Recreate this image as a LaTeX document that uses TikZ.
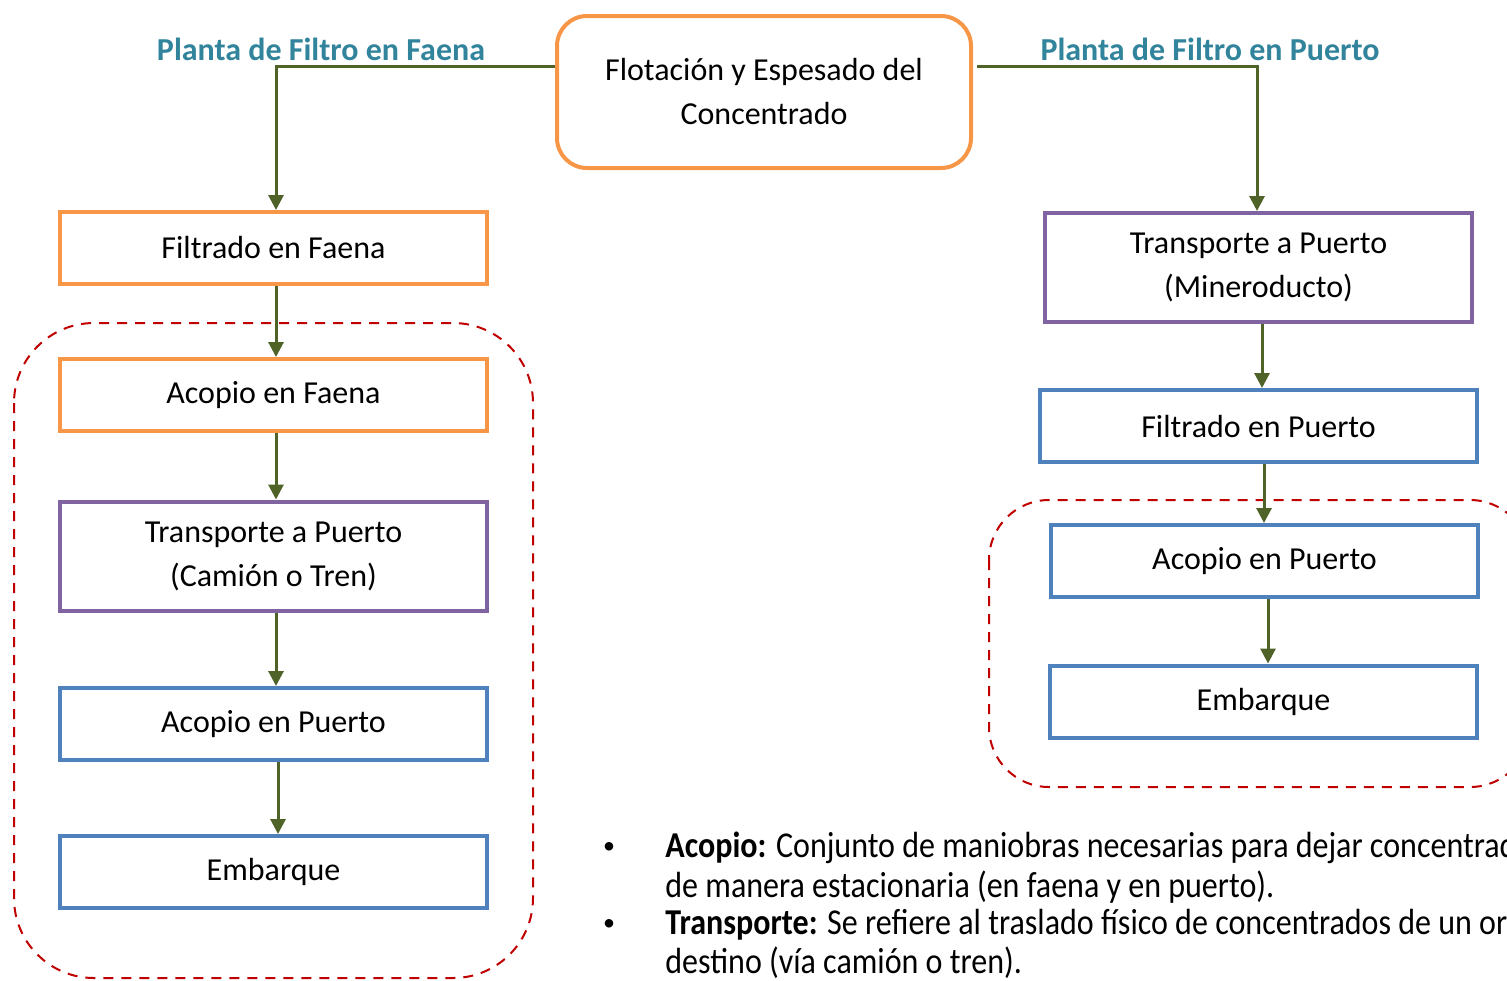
\documentclass[tikz,border=0pt]{standalone}
\usepackage{fontspec}
\setmainfont{Carlito}
\newfontfamily\condfont[FakeStretch=0.88]{Carlito}
\usetikzlibrary{arrows.meta,positioning,calc}
\definecolor{corange}{HTML}{F79646}
\definecolor{cpurple}{HTML}{8064A2}
\definecolor{cblue}{HTML}{4F81BD}
\definecolor{cteal}{HTML}{31849B}
\definecolor{cgreen}{HTML}{4F6228}
\definecolor{cred}{HTML}{C00000}
\tikzset{
  box/.style={draw, line width=2pt, rectangle, align=center, inner sep=0pt,
    font=\fontsize{16}{22}\selectfont},
  obox/.style={box, draw=corange},
  pbox/.style={box, draw=cpurple},
  bbox/.style={box, draw=cblue},
  arr/.style={draw=cgreen, line width=1.5pt, -{Triangle[length=7.5pt,width=7.5pt]}},
  grp/.style={draw=cred, line width=1pt, dash pattern=on 5pt off 4pt},
  ttl/.style={text=cteal, font=\fontsize{16}{18}\selectfont\bfseries, inner sep=0pt},
  note/.style={anchor=west, inner sep=0pt, font=\condfont\fontsize{18.2}{20}\selectfont},
  bul/.style={inner sep=0pt, font=\fontsize{12}{14}\selectfont},
}
\begin{document}
\begin{tikzpicture}[x=0.5pt,y=-0.5pt]
\useasboundingbox (0,0) rectangle (1507,980);
\clip (0,0) rectangle (1507,980);
% dashed groups
\draw[grp, rounded corners=40pt] (14,323) rectangle (533,978);
\draw[grp, rounded corners=30pt] (989,500) rectangle (1530,787);
% top
\node[obox, rounded corners=15pt, minimum width=207pt, minimum height=76pt] (flot) at (764,92) {Flotación y Espesado del\\Concentrado};
\node[ttl] (tf) at (321,49) {Planta de Filtro en Faena};
\node[ttl] (tp) at (1210,49) {Planta de Filtro en Puerto};
% left column
\node[obox, minimum width=213.5pt, minimum height=36pt] (ff) at (273.5,248) {Filtrado en Faena};
\node[obox, minimum width=213.5pt, minimum height=36pt] (af) at (273.5,395) {Acopio en Faena};
\node[pbox, minimum width=213.5pt, minimum height=54.5pt] (tl) at (273.5,556) {Transporte a Puerto\\(Camión o Tren)};
\node[bbox, minimum width=213.5pt, minimum height=36pt] (apl) at (273.5,724) {Acopio en Puerto};
\node[bbox, minimum width=213.5pt, minimum height=36pt] (el) at (273.5,872) {Embarque};
% right column
\node[pbox, minimum width=213.5pt, minimum height=54.5pt] (tr) at (1258.5,267.5) {Transporte a Puerto\\(Mineroducto)};
\node[bbox, minimum width=218.5pt, minimum height=36pt] (fp) at (1258.5,426) {Filtrado en Puerto};
\node[bbox, minimum width=213.5pt, minimum height=36pt] (apr) at (1264.5,561) {Acopio en Puerto};
\node[bbox, minimum width=213.5pt, minimum height=36pt] (er) at (1263.5,701.5) {Embarque};
% connectors
\draw[arr] ([yshift=13pt]flot.west) -| ([xshift=1.25pt]ff.north);
\draw[arr] ([yshift=13pt,xshift=2pt]flot.east) -| ([xshift=-0.75pt]tr.north);
\draw[arr] ([xshift=1.25pt]ff.south) -- ([xshift=1.25pt]af.north);
\draw[arr] ([xshift=1.25pt]af.south) -- ([xshift=1.25pt]tl.north);
\draw[arr] ([xshift=1.25pt]tl.south) -- ([xshift=1.25pt]apl.north);
\draw[arr] ([xshift=2.25pt]apl.south) -- ([xshift=2.25pt]el.north);
\draw[arr] ([xshift=1.75pt]tr.south) -- ([xshift=1.75pt]tr.south |- fp.north);
\draw[arr] ([xshift=2.75pt]fp.south) -- ([xshift=2.75pt]fp.south |- apr.north);
\draw[arr] ([xshift=1.75pt]apr.south) -- ([xshift=1.75pt]apr.south |- er.north);
% notes
\node[bul] (b1) at (609,848) {•};
\node[note] (n1) at (665,848) {\textbf{Acopio:} Conjunto de maniobras necesarias para dejar concentrado};
\node[note] (n2) at (665,887) {de manera estacionaria (en faena y en puerto).};
\node[bul] (b2) at (609,925) {•};
\node[note] (n3) at (665,925) {\textbf{Transporte:} Se refiere al traslado físico de concentrados de un origen a un};
\node[note] (n4) at (665,963) {destino (vía camión o tren).};
\end{tikzpicture}
\end{document}
